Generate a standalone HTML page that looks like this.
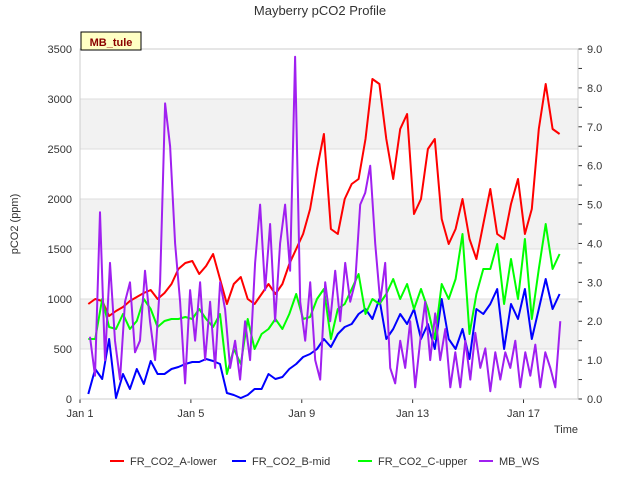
<!DOCTYPE html>
<html><head><meta charset="utf-8"><style>
body{margin:0;background:#fff;}
svg{display:block;font-family:"Liberation Sans","DejaVu Sans",sans-serif;}
</style></head><body>
<svg id="chart" width="640" height="480">
<text x="320" y="15" text-anchor="middle" font-size="13" fill="#333">Mayberry pCO2 Profile</text>
<g id="bands"></g>
<g id="axes"></g>
<g id="series"></g>
<rect x="81" y="32" width="60" height="18" fill="#ffffc4" stroke="#000" stroke-width="1"/>
<text x="111" y="46" text-anchor="middle" font-size="11" font-weight="bold" fill="#8b0000">MB_tule</text>
<text x="18" y="224" text-anchor="middle" font-size="11" fill="#333" transform="rotate(-90 18 224)">pCO2 (ppm)</text>
<text x="566" y="433" text-anchor="middle" font-size="11" fill="#333">Time</text>
<g>
<g><line x1="110" y1="461" x2="124" y2="461" stroke="#f00" stroke-width="2"/><text x="130" y="465" font-size="11" fill="#333">FR_CO2_A-lower</text></g>
<g><line x1="232" y1="461" x2="246" y2="461" stroke="#00f" stroke-width="2"/><text x="252" y="465" font-size="11" fill="#333">FR_CO2_B-mid</text></g>
<g><line x1="358" y1="461" x2="372" y2="461" stroke="#0f0" stroke-width="2"/><text x="378" y="465" font-size="11" fill="#333">FR_CO2_C-upper</text></g>
<g><line x1="479" y1="461" x2="493" y2="461" stroke="#a020f0" stroke-width="2"/><text x="499" y="465" font-size="11" fill="#333">MB_WS</text></g>
</g>
</svg>
<script>
const xTickDays=[0,4,8,12,16];
const xTickLabels=["Jan 1","Jan 5","Jan 9","Jan 13","Jan 17"];
const yTicks=[0,500,1000,1500,2000,2500,3000,3500];
const y2Ticks=[0,1,2,3,4,5,6,7,8,9];
const co2Start=0.3, co2Step=0.25;
const seriesA=[950,1000,980,830,880,920,980,1020,1060,1090,1000,1060,1150,1300,1360,1380,1250,1330,1450,1200,950,1150,1220,1000,950,1050,1150,1050,1150,1350,1500,1650,1900,2300,2650,1700,1650,2000,2150,2200,2600,3200,3150,2600,2200,2700,2850,1850,2000,2500,2600,1800,1550,1700,2000,1600,1400,1750,2100,1650,1600,1950,2200,1650,1900,2700,3150,2700,2650];
const seriesB=[50,300,200,600,10,250,100,300,150,380,250,250,300,320,350,370,370,400,380,350,60,40,10,40,100,100,250,200,220,300,350,420,450,500,600,520,650,720,750,850,900,800,1000,600,700,850,750,900,600,750,500,1000,600,500,700,400,900,850,950,1100,500,950,800,1100,600,900,1200,900,1050];
const seriesC=[600,600,1000,720,700,850,700,780,1000,900,720,780,800,800,820,800,900,800,720,850,250,500,350,800,500,650,700,800,700,850,1050,800,820,1000,1100,600,900,950,1100,1250,850,1000,950,1050,1200,1000,1150,900,1100,900,600,1150,1000,1200,1650,650,1050,1300,1300,1550,950,1400,1000,1600,800,1300,1750,1300,1450];
const wsStart=0.361, wsStep=0.1805;
const seriesWS=[1.6,0.6,4.8,1.0,3.5,1.5,0.5,2.5,3.0,1.2,1.5,3.3,2.0,1.0,3.0,7.6,6.5,4.0,2.5,0.4,2.8,1.5,3.0,1.0,2.5,0.8,3.0,2.3,0.8,1.5,0.5,2.0,1.0,3.5,5.0,2.8,4.5,2.0,4.0,5.0,3.3,8.8,2.5,1.5,3.0,1.0,0.5,3.0,2.0,3.3,2.0,3.5,2.5,3.0,5.0,5.3,6.0,4.0,2.5,3.5,0.8,0.4,1.5,0.8,2.0,0.3,1.5,2.5,1.0,2.2,1.0,1.8,0.3,1.2,0.3,1.5,0.5,1.7,0.8,1.3,0.2,1.2,0.5,1.2,0.8,1.5,0.3,1.2,0.6,1.4,0.3,1.2,0.8,0.3,2.0];

const NS="http://www.w3.org/2000/svg";
const L=80,R=578,T=49,B=399;
const xs=d=>L+d*27.72;
const ys=v=>B-(v/3500)*(B-T);
const ys2=v=>B-(v/9)*(B-T);
function mk(tag,attrs,parent){const e=document.createElementNS(NS,tag);for(const k in attrs)e.setAttribute(k,attrs[k]);parent.appendChild(e);return e;}
const bands=document.getElementById('bands'),axes=document.getElementById('axes'),ser=document.getElementById('series');
[[500,1000],[1500,2000],[2500,3000]].forEach(b=>{
 const r=mk('rect',{x:L,y:ys(b[1]),width:R-L,height:ys(b[0])-ys(b[1]),fill:'#f2f2f2'},bands);
 
 
});
yTicks.forEach(v=>{
 const g=mk('line',{x1:L,x2:R,y1:ys(v),y2:ys(v),stroke:'#ddd','stroke-width':1},bands);
 
 
 const t=mk('text',{x:L-8,y:ys(v)+4,'text-anchor':'end','font-size':11,fill:'#333'},axes);
 t.textContent=v;
 
 
});
for(let v=0;v<=9;v+=0.5){
 mk('line',{x1:R,x2:R+4,y1:ys2(v),y2:ys2(v),stroke:'#333'},axes);
}
y2Ticks.forEach(v=>{
 const t=mk('text',{x:R+9,y:ys2(v)+4,'font-size':11,fill:'#333'},axes);
 t.textContent=v.toFixed(1);
 
 
});
xTickDays.forEach((d,i)=>{
 mk('line',{x1:xs(d),x2:xs(d),y1:B,y2:B+4,stroke:'#333'},axes);
 const t=mk('text',{x:xs(d),y:B+18,'text-anchor':'middle','font-size':11,fill:'#333'},axes);
 t.textContent=xTickLabels[i];
 
 
});
const ax=mk('rect',{x:L,y:T,width:R-L,height:B-T,fill:'none',stroke:'#ccc'},axes);


function line(vals,start,step,yf,color,name){
 const pts=vals.map((v,i)=>xs(start+i*step).toFixed(1)+','+yf(v).toFixed(1)).join(' ');
 const p=mk('polyline',{points:pts,fill:'none',stroke:color,'stroke-width':2,'stroke-linejoin':'round'},ser);
 
 
}
line(seriesA,co2Start,co2Step,ys,'#f00','series-a-lower');
line(seriesB,co2Start,co2Step,ys,'#00f','series-b-mid');
line(seriesC,co2Start,co2Step,ys,'#0f0','series-c-upper');
line(seriesWS,wsStart,wsStep,ys2,'#a020f0','series-mb-ws');
</script>
</body></html>
